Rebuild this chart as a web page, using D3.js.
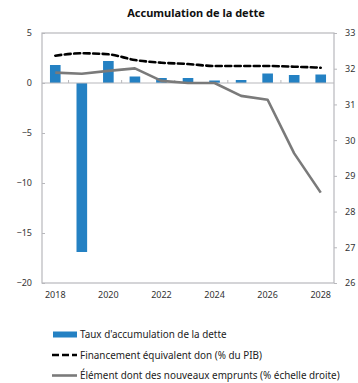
<!DOCTYPE html>
<html>
<head>
<meta charset="utf-8">
<script src="https://cdn.jsdelivr.net/npm/d3@7"></script>
<style>
  html, body { margin: 0; padding: 0; background: #fff; }
  svg { display: block; font-family: "Noto Sans", "Open Sans", sans-serif; }
</style>
</head>
<body>
<svg id="chart" width="358" height="383"></svg>
<script>
// Years on the category axis
const years = [2018, 2019, 2020, 2021, 2022, 2023, 2024, 2025, 2026, 2027, 2028];
// Taux d'accumulation de la dette (left axis, bars)
const accumulation = [1.8, -16.9, 2.2, 0.65, 0.5, 0.5, 0.25, 0.3, 0.95, 0.8, 0.85];
// Financement équivalent don, % du PIB (left axis, dashed)
const financement = [2.73, 2.97, 2.87, 2.3, 2.03, 1.9, 1.7, 1.7, 1.7, 1.63, 1.53];
// Élément don des nouveaux emprunts, % (right axis, solid grey)
const elementDon = [31.89, 31.86, 31.94, 32.01, 31.66, 31.6, 31.6, 31.24, 31.13, 29.63, 28.53];
// Tick values
const leftTicks = [5, 0, -5, -10, -15, -20];
const rightTicks = [33, 32, 31, 30, 29, 28, 27, 26];
const yearLabels = [2018, 2020, 2022, 2024, 2026, 2028];

const legendItems = [
  { label: "Taux d'accumulation de la dette", kind: "bar" },
  { label: "Financement équivalent don (% du PIB)", kind: "dash" },
  { label: "Élément dont des nouveaux emprunts (% échelle droite)", kind: "line" }
];

const svg = d3.select("#chart");
const plot = { left: 42, right: 334, top: 33, bottom: 283 };
const blue = "#2481c3", grey = "#7a7a7a", axisGrey = "#b8b8bc", textCol = "#333";

const x = d3.scaleBand().domain(years).range([plot.left, plot.right]).paddingInner(0.6).paddingOuter(0.3);
const xc = d => x(d) + x.bandwidth() / 2;
const xBoundary = d3.scaleBand().domain(years).range([plot.left, plot.right]);
const yL = d3.scaleLinear().domain([-20, 5]).range([plot.bottom, plot.top]);
const yR = d3.scaleLinear().domain([26, 33]).range([plot.bottom, plot.top]);

// Title
svg.append("text")
  .attr("x", 196).attr("y", 17)
  .attr("text-anchor", "middle")
  .attr("font-size", 11).attr("font-weight", "bold").attr("fill", "#111")
  .text("Accumulation de la dette");

// Plot frame
svg.append("rect")
  .attr("x", plot.left).attr("y", plot.top)
  .attr("width", plot.right - plot.left).attr("height", plot.bottom - plot.top)
  .attr("fill", "none").attr("stroke", axisGrey).attr("stroke-width", 1.2);

// Left axis
const gL = svg.append("g").attr("transform", `translate(${plot.left},0)`)
  .call(d3.axisLeft(yL).tickValues(leftTicks).tickSize(-3).tickPadding(10).tickFormat(d3.format("d")));
gL.select(".domain").remove();
gL.selectAll("line").attr("stroke", axisGrey);
gL.selectAll("text").attr("font-size", 9).attr("fill", textCol).attr("font-family", "Noto Sans, sans-serif");

// Right axis
const gR = svg.append("g").attr("transform", `translate(${plot.right},0)`)
  .call(d3.axisRight(yR).tickValues(rightTicks).tickSize(3).tickPadding(8).tickFormat(d3.format("d")));
gR.select(".domain").remove();
gR.selectAll("line").attr("stroke", axisGrey);
gR.selectAll("text").attr("font-size", 9).attr("fill", textCol).attr("font-family", "Noto Sans, sans-serif");

// Bars
svg.append("g").selectAll("rect").data(years).join("rect")
  .attr("x", d => x(d))
  .attr("width", x.bandwidth())
  .attr("y", (d, i) => yL(Math.max(0, accumulation[i])))
  .attr("height", (d, i) => Math.abs(yL(accumulation[i]) - yL(0)))
  .attr("fill", blue);

// Zero line with category ticks
svg.append("line")
  .attr("x1", plot.left).attr("x2", plot.right)
  .attr("y1", yL(0)).attr("y2", yL(0))
  .attr("stroke", axisGrey).attr("stroke-width", 1.2);
svg.append("g").selectAll("line").data(years.filter((d, i) => i > 0 && i % 2 === 1)).join("line")
  .attr("x1", d => xBoundary(d)).attr("x2", d => xBoundary(d))
  .attr("y1", yL(0)).attr("y2", yL(0) - 3)
  .attr("stroke", axisGrey);

// Year labels
svg.append("g").selectAll("text").data(yearLabels).join("text")
  .attr("x", d => xc(d)).attr("y", 298)
  .attr("text-anchor", "middle")
  .attr("font-size", 9).attr("fill", textCol)
  .text(d => d);

const line = d3.line().curve(d3.curveMonotoneX);

// Grey solid line (right axis)
svg.append("path")
  .attr("d", d3.line()(years.map((d, i) => [xc(d), yR(elementDon[i])])))
  .attr("fill", "none").attr("stroke", grey).attr("stroke-width", 2.6)
  .attr("stroke-linejoin", "round");

// Black dashed line (left axis)
svg.append("path")
  .attr("d", line(years.map((d, i) => [xc(d), yL(financement[i])])))
  .attr("fill", "none").attr("stroke", "#000").attr("stroke-width", 2.6)
  .attr("stroke-dasharray", "6,3.5").attr("stroke-linecap", "round");

// Legend
const lg = svg.append("g");
legendItems.forEach((item, i) => {
  const cy = 334.5 + i * 20.5;
  if (item.kind === "bar") {
    lg.append("rect").attr("x", 53).attr("y", cy - 3).attr("width", 24).attr("height", 6).attr("fill", blue);
  } else if (item.kind === "dash") {
    lg.append("line").attr("x1", 52).attr("x2", 77).attr("y1", cy).attr("y2", cy)
      .attr("stroke", "#000").attr("stroke-width", 2.6).attr("stroke-dasharray", "7,3");
  } else {
    lg.append("line").attr("x1", 52).attr("x2", 77).attr("y1", cy).attr("y2", cy)
      .attr("stroke", grey).attr("stroke-width", 2.6);
  }
  lg.append("text").attr("x", 80).attr("y", cy + 3.5)
    .attr("font-size", 9.9).attr("fill", "#222")
    .text(item.label);
});
</script>
</body>
</html>
